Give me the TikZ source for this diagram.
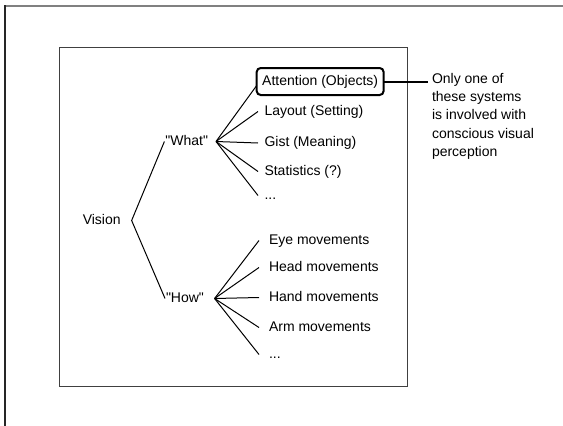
\documentclass[tikz,border=0pt]{standalone}
\usepackage{fontspec}
\setmainfont{Liberation Sans}
\usetikzlibrary{calc}
\begin{document}
\begin{tikzpicture}[x=1pt,y=-1pt,
  txt/.style={font=\fontsize{14}{18.4}\selectfont, text height=10pt, text depth=3pt, inner ysep=0pt, inner xsep=1pt, outer sep=0pt},
  leafW/.style={txt, anchor=west, inner xsep=6.5pt},
  leafH/.style={txt, anchor=west, inner xsep=10pt},
  branch/.style={line width=1pt, black},
  focus/.style={txt, draw, line width=2pt, rounded corners=4pt, inner xsep=5.5pt, inner ysep=7pt},
  notetxt/.style={font=\fontsize{14}{18.4}\selectfont, align=left, inner sep=0pt, outer sep=0pt},
  link/.style={line width=2pt, black}
]
\useasboundingbox (0,0) rectangle (563,426);
% page frame and panel
\draw[gray, line width=2pt] (4,5.5) -- (563,5.5);
\draw[black!85, line width=1.5pt] (5,5) -- (5,426);
\draw[black!75, line width=1pt] (59.5,47) rectangle (407,386);

% tree nodes
\node[txt, anchor=base] (vis) at (101.7,224) {Vision};
\node[txt, anchor=base] (what) at (186.7,145) {\textquotedbl What\textquotedbl};
\node[txt, anchor=base] (how) at (185,302) {\textquotedbl How\textquotedbl};

\node[focus, anchor=west] (att) at (256.7,81.5) {Attention (Objects)};
\node[leafW] (lay) at (258,111.5) {Layout (Setting)};
\node[leafW] (gist) at (258,143) {Gist (Meaning)};
\node[leafW] (stat) at (258,171.5) {Statistics (?)};
\node[leafW] (wdots) at (258,195.5) {...};

\node[leafH] (eye) at (259,240.5) {Eye movements};
\node[leafH] (head) at (259,267.5) {Head movements};
\node[leafH] (hand) at (259,297.5) {Hand movements};
\node[leafH] (arm) at (259,327.5) {Arm movements};
\node[leafH] (hdots) at (259,354.5) {...};

\node[notetxt, anchor=north west] (note) at (432,73) {Only one of\\these systems\\is involved with\\conscious visual\\perception};

% hubs
\coordinate (hw) at ([xshift=7pt]what.east);
\coordinate (hh) at ([xshift=9.6pt]how.east);
\coordinate (hv) at ([xshift=10pt]vis.east);

% branches
\draw[branch] (what.west) -- (hv) -- (how.west);
\draw[branch] (hw) -- ([yshift=-4pt]att.west);
\draw[branch] (hw) -- (lay.west);
\draw[branch] (hw) -- (gist.west);
\draw[branch] (hw) -- (stat.west);
\draw[branch] (hw) -- (wdots.west);
\draw[branch] (hh) -- (eye.west);
\draw[branch] (hh) -- (head.west);
\draw[branch] (hh) -- (hand.west);
\draw[branch] (hh) -- (arm.west);
\draw[branch] (hh) -- (hdots.west);

% annotation link
\draw[link] (att.east) -- ($(att.east -| note.west)+(-4,0)$);
\end{tikzpicture}
\end{document}
